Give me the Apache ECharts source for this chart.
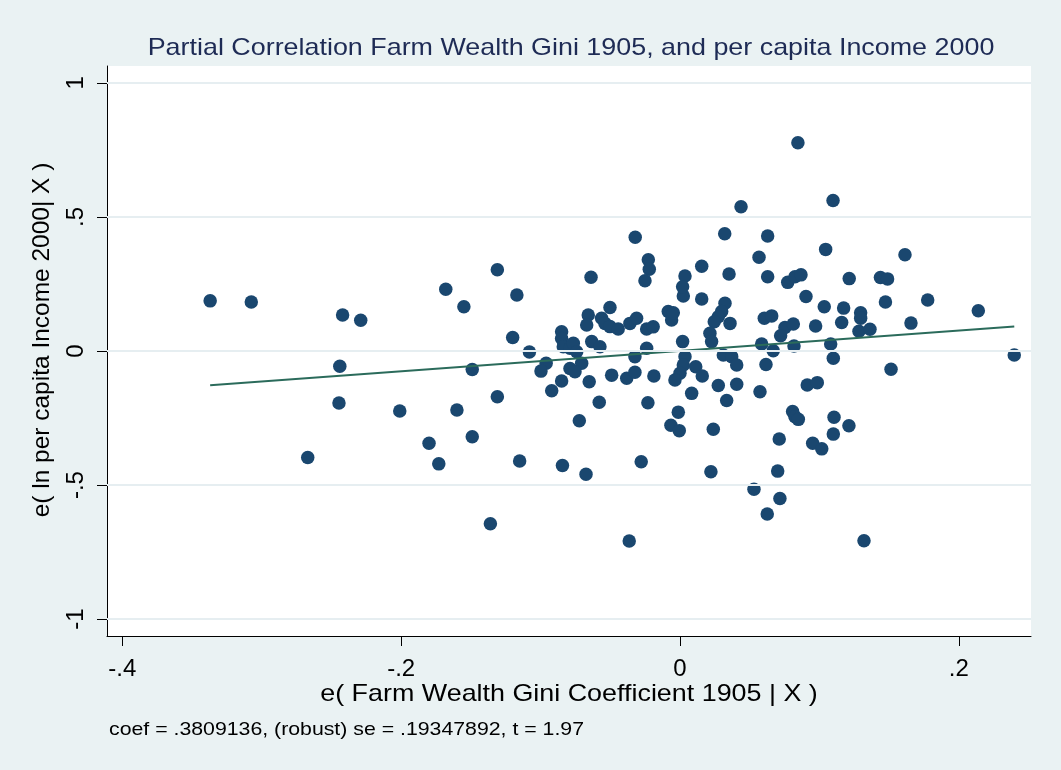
<!DOCTYPE html>
<html><head><meta charset="utf-8">
<script src="https://cdn.jsdelivr.net/npm/echarts@6/dist/echarts.min.js"></script>
<style>html,body{margin:0;padding:0;background:#eaf2f3}#c{width:1061px;height:770px}</style>
</head><body><div id="c"></div>
<script>
// e( Farm Wealth Gini Coefficient 1905 | X )
const giniResid = [
-0.337,-0.3075,-0.242,-0.229,-0.244,-0.2446,-0.267,-0.201,
-0.131,-0.168,-0.117,-0.155,-0.120,-0.108,-0.149,-0.096,-0.0997,-0.131,-0.160,-0.180,-0.149,-0.173,-0.115,-0.136,-0.092,
-0.0849,-0.0849,-0.0837,-0.0789,-0.0765,-0.0741,-0.0658,-0.0669,-0.0562,-0.0538,-0.0502,-0.0443,-0.0502,-0.0359,-0.0311,
-0.0084,-0.0060,-0.0048,-0.0239,-0.0192,-0.0633,-0.0574,-0.0239,0.0019,-0.0323,-0.0705,-0.0789,-0.0753,-0.0849,-0.0651,
-0.0490,-0.0382,-0.0323,-0.0187,0.0036,0.0024,0.0000,-0.0036,0.0113,0.0160,0.0311,0.0371,0.0407,0.0275,0.0407,0.0084,
0.0024,0.0156,0.0323,0.0299,0.0275,0.0246,0.0359,0.0215,0.0227,
-0.0579,-0.0230,-0.0012,-0.0722,-0.0065,-0.0005,0.0239,0.0335,-0.0843,-0.0674,-0.0278,0.0222,-0.0364,
-0.0321,-0.0227,-0.0220,-0.0251,-0.0638,0.0156,0.0036,0.0019,0.0321,0.0352,
0.0846,0.0438,0.1098,0.0629,0.1045,0.0567,0.0629,0.0773,0.0825,0.0868,0.1214,0.1438,0.1489,0.0904,0.1035,0.1174,0.1474,
0.0605,0.0658,0.0753,0.0813,0.0722,0.0973,0.1160,0.1296,0.1296,0.1284,0.1363,
0.0586,0.0669,0.0818,0.1081,0.1100,0.0617,0.0574,0.0913,0.0985,0.1514,0.0808,0.0825,0.0849,0.1105,0.1212,0.1100,
0.0712,0.0952,0.1017,0.0701,0.0531,0.0717,0.0626,0.1320,
0.1614,0.1777,0.2140,0.1657,0.2398
];
// e( ln per capita Income 2000 | X )
const incomeResid = [
0.187,0.183,0.134,0.115,-0.057,-0.194,-0.397,-0.224,
0.303,0.230,0.209,0.165,0.050,-0.004,-0.069,-0.046,-0.075,-0.171,-0.220,-0.344,-0.320,-0.421,-0.410,-0.644,-0.148,
0.072,0.047,0.016,0.010,0.029,-0.003,0.134,0.097,0.122,0.103,0.091,0.082,0.162,0.103,0.122,
0.147,0.116,0.143,0.082,0.090,0.035,0.016,0.010,0.035,-0.021,-0.046,-0.065,-0.077,-0.112,-0.115,
-0.090,-0.102,-0.079,-0.093,-0.021,-0.052,-0.083,-0.108,-0.059,-0.093,-0.015,-0.021,-0.052,-0.129,-0.124,-0.158,
0.205,0.194,0.178,0.147,0.128,0.109,0.103,0.066,0.035,
-0.191,-0.193,-0.228,-0.260,-0.277,-0.297,-0.292,-0.185,-0.427,-0.460,-0.413,-0.450,-0.709,
0.424,0.340,0.305,0.262,0.275,0.316,0.280,0.240,0.437,0.287,
0.777,0.538,0.561,0.429,0.379,0.350,0.277,0.256,0.277,0.284,0.270,0.274,0.269,0.203,0.165,0.160,0.183,
0.122,0.131,0.088,0.101,0.057,0.093,0.106,0.143,0.122,0.074,0.081,
0.026,0.001,0.019,0.026,-0.027,-0.050,-0.152,-0.127,-0.118,-0.068,-0.226,-0.245,-0.255,-0.247,-0.279,-0.310,
-0.328,-0.344,-0.365,-0.448,-0.516,-0.550,-0.608,-0.708,
0.359,0.190,0.150,0.104,-0.015
];
// fitted line end points (coef = .3809136)
const fitX = [-0.337, 0.2398];
const fitY = [-0.128, 0.091];
const xTicks = [-0.4, -0.2, 0, 0.2];
const yTicks = [-1, -0.5, 0, 0.5, 1];
const titleText = 'Partial Correlation Farm Wealth Gini 1905, and per capita Income 2000';
const xName = 'e( Farm Wealth Gini Coefficient 1905 | X )';
const yName = 'e( ln per capita Income 2000| X )';
const noteText = 'coef = .3809136, (robust) se = .19347892, t = 1.97';

function fmt(v) { return String(v).replace('0.', '.'); }
const points = giniResid.map((x, i) => [x, incomeResid[i]]);
const fitLine = fitX.map((x, i) => [x, fitY[i]]);
const FF = '"Liberation Sans", Arial, sans-serif';

const chart = echarts.init(document.getElementById('c'), null, {renderer: 'canvas'});
chart.setOption({
  animation: false,
  backgroundColor: '#eaf2f3',
  grid: {left: 107, right: 30, top: 66, bottom: 134, show: true, backgroundColor: '#ffffff', borderWidth: 0},
  xAxis: {
    type: 'value', min: -0.411, max: 0.2518,
    axisLine: {show: true, onZero: false, lineStyle: {color: '#000', width: 1}},
    axisTick: {show: true, customValues: xTicks, length: 10, lineStyle: {color: '#000', width: 1}},
    axisLabel: {customValues: xTicks, formatter: fmt, margin: 21, fontSize: 24, color: '#000', fontFamily: FF},
    splitLine: {show: false}
  },
  yAxis: {
    type: 'value', min: -1.063, max: 1.063,
    axisLine: {show: true, onZero: false, lineStyle: {color: '#000', width: 1}},
    axisTick: {show: true, customValues: yTicks, length: 10, lineStyle: {color: '#000', width: 1}},
    axisLabel: {customValues: yTicks, formatter: fmt, margin: 19, rotate: 90, fontSize: 24, color: '#000', fontFamily: FF},
    splitLine: {show: false}
  },
  series: [
    {
      type: 'line', data: [], z: 1, silent: true,
      markLine: {
        silent: true, symbol: 'none', label: {show: false}, animation: false,
        lineStyle: {color: '#e6eef1', width: 2, type: 'solid'},
        data: yTicks.map(v => ({yAxis: v}))
      }
    },
    {type: 'scatter', data: points, symbol: 'circle', symbolSize: 13.5, itemStyle: {color: '#1a476f', opacity: 1}, z: 3},
    {type: 'line', data: fitLine, showSymbol: false, symbol: 'none', lineStyle: {color: '#2b6b5b', width: 2}, z: 4}
  ],
  graphic: [
    {type: 'text', x: 571, y: 48, scaleX: 1.12, style: {text: titleText, fontSize: 24, fontFamily: FF, fill: '#1e2b55', align: 'center', verticalAlign: 'middle', textAlign: 'center', textVerticalAlign: 'middle'}},
    {type: 'text', x: 569, y: 694, scaleX: 1.12, style: {text: xName, fontSize: 24, fontFamily: FF, fill: '#000', align: 'center', verticalAlign: 'middle', textAlign: 'center', textVerticalAlign: 'middle'}},
    {type: 'text', x: 42, y: 340, rotation: Math.PI / 2, scaleX: 1.02, style: {text: yName, fontSize: 24, fontFamily: FF, fill: '#000', align: 'center', verticalAlign: 'middle', textAlign: 'center', textVerticalAlign: 'middle'}},
    {type: 'text', x: 109, y: 730, scaleX: 1.12, style: {text: noteText, fontSize: 19, fontFamily: FF, fill: '#000', align: 'left', verticalAlign: 'middle', textAlign: 'left', textVerticalAlign: 'middle'}}
  ]
});
</script></body></html>
